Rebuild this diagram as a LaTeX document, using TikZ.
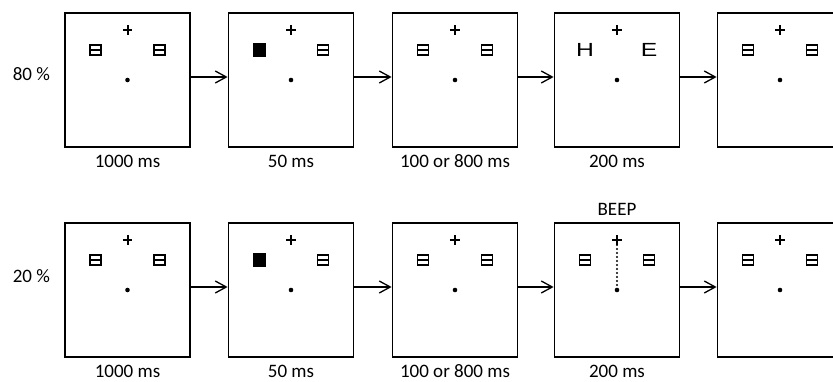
\documentclass[tikz,border=0pt]{standalone}
\usepackage{fontspec}
\setmainfont{Carlito}
\newfontfamily\letterfont{Liberation Sans}
\usetikzlibrary{arrows.meta,positioning}
\tikzset{
  display/.style={draw,line width=1.8pt,minimum width=125pt,minimum height=134pt,inner sep=0pt},
  timing/.style={font=\fontsize{19}{22}\selectfont,inner sep=0pt},
  duration/.style={timing,anchor=base},
  holder/.style={draw,line width=1.5pt,minimum width=11pt,minimum height=10pt,inner sep=0pt,
    path picture={\draw[line width=1.5pt] (path picture bounding box.west) -- (path picture bounding box.east);}},
  cue/.style={fill,minimum width=13pt,minimum height=14pt,inner sep=0pt},
  letter/.style={font=\letterfont\fontsize{19}{19}\selectfont,inner sep=0pt},
  fixcross/.style={line width=2pt},
  beepline/.style={line width=2.4pt,line cap=round,dash pattern=on 0pt off 4pt},
  flow/.style={line width=1.3pt,-{Straight Barb[length=11pt,width=12pt,line width=1.3pt]}}
}
\begin{document}
\begin{tikzpicture}[x=1pt,y=1pt]
  \useasboundingbox (0,0) rectangle (833,381);
  \clip (0,0) rectangle (833,381);

  % the displays, two rows of five
  \foreach \r/\cy in {1/301,2/91}
    \foreach \c/\cx in {1/127.5,2/291,3/455,4/617,5/780}
      \node[display] (f\r\c) at (\cx,\cy) {};

  % fixation cross and dot in every display
  \foreach \r in {1,2}
    \foreach \c in {1,...,5} {
      \draw[fixcross] ([yshift=50pt]f\r\c.center) +(-4.7,0) -- +(4.7,0) +(0,-4.7) -- +(0,4.7);
      \fill (f\r\c.center) circle (2.3);
    }

  % placeholders
  \foreach \b in {11,13,15,21,23,24,25} {
    \node[holder] (l\b) at ([shift={(-32,30)}]f\b.center) {};
    \node[holder] (r\b) at ([shift={(32,30)}]f\b.center) {};
  }
  \foreach \b in {12,22} {
    \node[cue] (l\b) at ([shift={(-32,30)}]f\b.center) {};
    \node[holder] (r\b) at ([shift={(32,30)}]f\b.center) {};
  }
  \node[letter] (l14) at ([shift={(-32,30)}]f14.center) {\scalebox{1.3}[1]{H}};
  \node[letter] (r14) at ([shift={(32,30)}]f14.center) {\scalebox{1.3}[1]{E}};

  % beep trial
  \coordinate (b24) at ([yshift=45pt]f24.center);
  \draw[beepline] (b24) -- (f24.center);
  \node[timing] (beep) [above=6pt of f24] {BEEP};

  % arrows between displays
  \foreach \r in {1,2}
    \foreach \c/\n in {1/2,2/3,3/4,4/5}
      \draw[flow] ([yshift=3pt]f\r\c.east) -- ([yshift=3pt]f\r\n.west);

  % durations
  \foreach \r in {1,2} {
    \node[duration] (d\r1) at ([yshift=-20pt]f\r1.south) {1000 ms};
    \node[duration] (d\r2) at ([yshift=-20pt]f\r2.south) {50 ms};
    \node[duration] (d\r3) at ([yshift=-20pt]f\r3.south) {100 or 800 ms};
    \node[duration] (d\r4) at ([yshift=-20pt]f\r4.south) {200 ms};
  }

  % probabilities
  \node[timing] (p80) [left=14pt of f11, yshift=6pt] {80 \%};
  \node[timing] (p20) [left=14pt of f21, yshift=14pt] {20 \%};
\end{tikzpicture}
\end{document}
